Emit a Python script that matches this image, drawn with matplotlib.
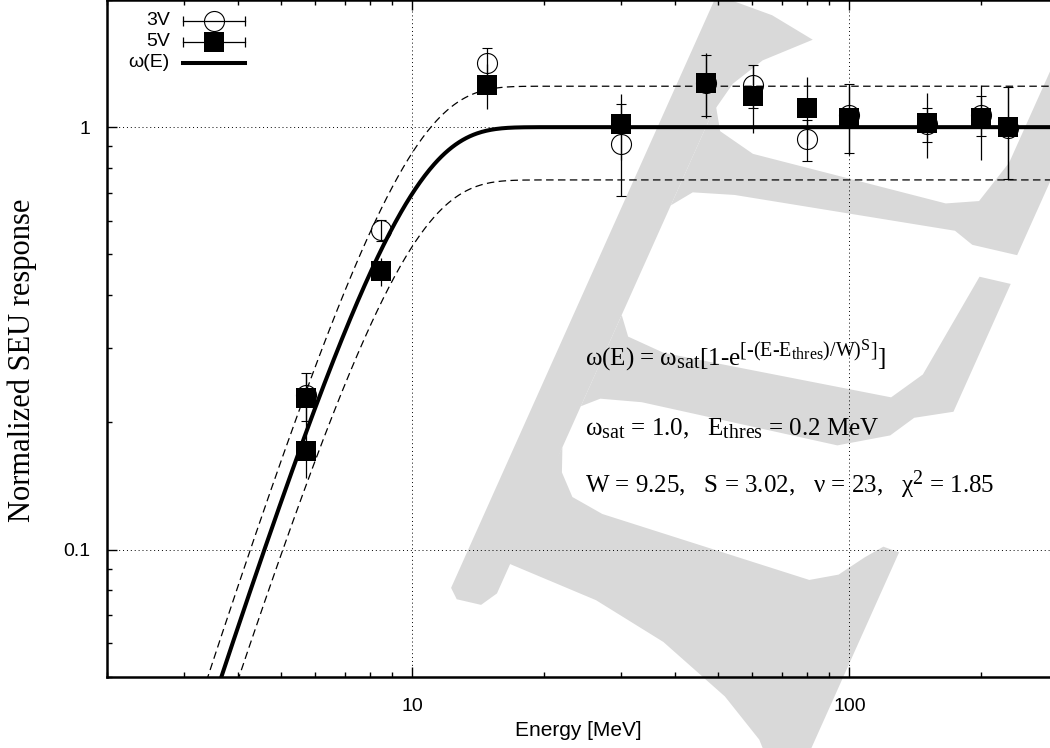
import numpy as np
import matplotlib
matplotlib.use('Agg')
import matplotlib.pyplot as plt
import matplotlib._mathtext as mt
from matplotlib.ticker import LogLocator, NullFormatter
from matplotlib.patches import Polygon

plt.rcParams['font.family'] = ['Liberation Sans', 'DejaVu Sans']
plt.rcParams['mathtext.fontset'] = 'custom'
plt.rcParams['mathtext.rm'] = 'Liberation Serif'
plt.rcParams['mathtext.it'] = 'Liberation Serif'
plt.rcParams['mathtext.bf'] = 'Liberation Serif:bold'
# larger sub/superscripts, closer to gnuplot's enhanced text
mt.SHRINK_FACTOR = 0.8

# 3V measurements: energy [MeV], normalized response, error
e3 = [5.7, 8.5, 14.8, 30.0, 47.1, 60.2, 80.0, 100.0, 150.6, 200.4, 230.8]
r3 = [0.232, 0.571, 1.417, 0.911, 1.27, 1.258, 0.935, 1.068, 1.015, 1.068, 0.998]
d3 = [0.030, 0.033, 0.120, 0.225, 0.21, 0.146, 0.105, 0.200, 0.095, 0.115, 0.245]

# 5V measurements
e5 = [5.7, 5.7, 8.5, 14.8, 30.0, 47.1, 60.2, 80.0, 100.0, 150.6, 200.4, 230.8]
r5 = [0.228, 0.171, 0.456, 1.258, 1.016, 1.274, 1.185, 1.111, 1.054, 1.024, 1.049, 1.0]
d5 = [0.033, 0.023, 0.035, 0.155, 0.18, 0.223, 0.216, 0.200, 0.195, 0.178, 0.212, 0.25]

# Weibull fit parameters
w_sat = 1.0
e_thres = 0.2
w_par = 9.25
s_par = 3.02
band_hi = 1.25
band_lo = 0.75

W, H = 1050, 748
fig = plt.figure(figsize=(W / 100, H / 100), dpi=100)
ax = fig.add_axes([106.7 / W, 71.3 / H, 943.3 / W, 676.7 / H])
ax.set_facecolor('none')

# grey watermark letter, built in its own tilted frame (pixels):
# x runs along the arms, y up along the stem
origin = np.array([447.0, 597.0])
along = np.array([0.974, 0.225])
upward = np.array([0.409, -0.913])
strokes = [
    # stem with rounded foot and hooked top
    [(0, 10), (10, 0), (35, 0), (45, 15), (45, 540), (52, 575), (70, 605),
     (108, 637), (60, 652), (11, 658), (0, 655)],
    # lower arm, bracket and end serif
    [(40, 48), (140, 31), (220, 5), (300, -35), (350, -70), (372, -95), (402, -95),
     (402, 148), (385, 150), (372, 135), (355, 112), (330, 100), (110, 118),
     (75, 128), (55, 150), (45, 175), (40, 100)],
    # middle arm rising into its end serif
    [(45, 220), (60, 232), (100, 238), (300, 240), (345, 262), (360, 285),
     (394, 300), (394, 440), (362, 440), (350, 330), (330, 300), (100, 292),
     (60, 300), (45, 320)],
    # upper arm and its tall end serif
    [(45, 440), (60, 458), (100, 465), (320, 480), (342, 470), (388, 470),
     (388, 780), (342, 780), (342, 560), (330, 515), (300, 505), (100, 510),
     (60, 525), (45, 550)],
]
for pts in strokes:
    loc = np.array(pts, dtype=float)
    img = origin + loc[:, :1] * along + loc[:, 1:] * upward
    fxy = np.column_stack([img[:, 0] / W, 1 - img[:, 1] / H])
    fig.add_artist(Polygon(fxy, closed=True, transform=fig.transFigure,
                           facecolor='#d9d9d9', edgecolor='none', zorder=-5))

ax.set_xscale('log')
ax.set_yscale('log')
ax.set_xlim(2, 287.6)
ax.set_ylim(0.05, 2.0)

# fitted curve and its band
E = np.logspace(np.log10(2), np.log10(290), 800)
fit = w_sat * (1 - np.exp(-((E - e_thres) / w_par) ** s_par))
ax.plot(E, fit, color='k', lw=2.9, zorder=3)
ax.plot(E, band_hi * fit, color='k', lw=0.9, ls=(0, (6, 3.5)), zorder=3)
ax.plot(E, band_lo * fit, color='k', lw=0.9, ls=(0, (6, 3.5)), zorder=3)

ax.errorbar(e3, r3, yerr=d3, fmt='o', ms=14.4, mfc='none', mec='k', mew=0.8,
            ecolor='k', elinewidth=0.9, capsize=3.6, capthick=0.9, zorder=4)
ax.errorbar(e5, r5, yerr=d5, fmt='s', ms=14, mfc='k', mec='k', mew=0,
            ecolor='k', elinewidth=0.9, capsize=3.6, capthick=0.9, zorder=5)

ax.grid(True, which='major', color='k', lw=0.7, ls=(0, (1, 3)))
ax.set_axisbelow(True)

ax.set_xticks([10, 100], ['10', '100'])
ax.set_yticks([0.1, 1], ['0.1', '1'])
ax.xaxis.set_minor_locator(LogLocator(base=10, subs=np.arange(2, 10)))
ax.yaxis.set_minor_locator(LogLocator(base=10, subs=np.arange(2, 10)))
ax.xaxis.set_minor_formatter(NullFormatter())
ax.yaxis.set_minor_formatter(NullFormatter())
ax.tick_params(which='both', direction='in', top=True, right=False, width=1.0, labelsize=14)
ax.tick_params(which='major', length=7)
ax.tick_params(which='minor', length=3.6)
ax.tick_params(axis='x', pad=15)
ax.tick_params(axis='y', pad=11.5)
ax.spines['right'].set_visible(False)
for s in ['left', 'bottom', 'top']:
    ax.spines[s].set_linewidth(1.8)

ax.set_xlabel('Energy [MeV]', fontsize=15)
ax.xaxis.set_label_coords(0.5, -0.066)
ax.set_ylabel('Normalized SEU response', family='Liberation Serif', fontsize=22)
ax.yaxis.set_label_coords(-0.074, 0.468)

# key in the upper left corner
tx, x0, x1, xc = 0.0671, 0.0809, 0.1466, 0.1137
rows = [0.9694, 0.9384, 0.9073]
ax.text(tx, rows[0], '3V', transform=ax.transAxes, ha='right', va='center', fontsize=14)
ax.text(tx, rows[1], '5V', transform=ax.transAxes, ha='right', va='center', fontsize=14)
ax.text(tx, rows[2], 'ω(E)', transform=ax.transAxes, ha='right', va='center', fontsize=14)
for y, mk, fc in [(rows[0], 'o', 'none'), (rows[1], 's', 'k')]:
    ax.plot([x0, x1], [y, y], color='k', lw=0.9, transform=ax.transAxes, clip_on=False)
    ax.plot([x0, x1], [y, y], ls='none', marker='|', ms=7, mew=0.9, color='k',
            transform=ax.transAxes, clip_on=False)
    ax.plot([xc], [y], marker=mk, ms=14.4 if mk == 'o' else 14, mfc=fc, mec='k',
            mew=0.8 if mk == 'o' else 0, transform=ax.transAxes, clip_on=False)
ax.plot([x0, x1], [rows[2], rows[2]], color='k', lw=2.9, transform=ax.transAxes, clip_on=False)

# fit formula and parameters
ser = {'family': 'Liberation Serif', 'fontsize': 18}
hy = '\u2010'
fig.text(585 / W, 1 - 365.7 / H,
         'ω(E) = ω$_{\\mathrm{sat}}$[1-e$^{\\mathrm{[' + hy + '(E' + hy +
         'E_{thres})/W)^{S}]}}$]',
         va='baseline', **ser)
fig.text(585 / W, 1 - 435 / H,
         'ω$_{\\mathrm{sat}}$ = %.1f,   E$_{\\mathrm{thres}}$ = %.1f MeV' % (w_sat, e_thres),
         va='baseline', **ser)
fig.text(585 / W, 1 - 492.7 / H,
         'W = %.2f,   S = %.2f,   ν = 23,   χ$^2$ = 1.85' % (w_par, s_par),
         va='baseline', **ser)

fig.savefig('out.png', dpi=100)
